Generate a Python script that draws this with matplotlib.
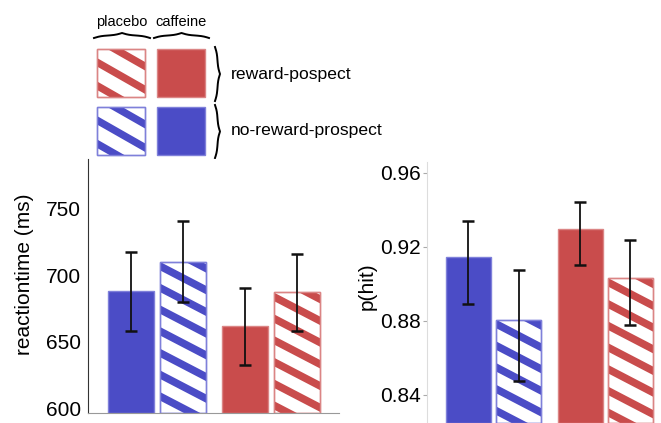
import numpy as np
import matplotlib.pyplot as plt
from matplotlib.patches import Rectangle, Polygon
from matplotlib.transforms import IdentityTransform

plt.rcParams['font.family'] = ['Liberation Sans', 'DejaVu Sans']

# bar order: caffeine/no-reward, placebo/no-reward, caffeine/reward, placebo/reward
conditions = ['caffeine no-reward', 'placebo no-reward', 'caffeine reward', 'placebo reward']
rt_mean = [688, 710, 662, 687]
rt_err_low = [30, 30, 29, 28.5]
rt_err_high = [29.5, 30, 28.5, 28.5]
hit_mean = [0.9143, 0.8805, 0.9294, 0.9031]
hit_err_low = [0.0252, 0.0331, 0.0195, 0.0252]
hit_err_high = [0.0198, 0.0267, 0.0149, 0.0205]
rt_ticks = [600, 650, 700, 750]
hit_ticks = [0.84, 0.88, 0.92, 0.96]
hit_tick_labels = ['0.84', '0.88', '0.92', '0.96']

blue = '#4b4cc6'
red = '#c94c4c'
blue_edge = '#7f80da'
red_edge = '#db8585'
colors = [blue, blue, red, red]
edges = [blue_edge, blue_edge, red_edge, red_edge]
hatched = [False, True, False, True]
xpos = [0, 1.12, 2.48, 3.60]

W, H = 661, 423
fig = plt.figure(figsize=(W / 100, H / 100), dpi=100)


def px_axes(x0, y0, x1, y1):
    # axes box given in pixel coords measured from the top-left corner
    return fig.add_axes([x0 / W, (H - y1) / H, (x1 - x0) / W, (y1 - y0) / H])


def stripes(ax, clip, ext, color, period=21.7, thick=8.5, slope=0.52, offset=0.0):
    # diagonal stripes falling to the right, laid out in display pixels from
    # the patch's top-left corner and clipped to the patch
    x0, x1, top, bottom = ext.x0, ext.x1, ext.y1, ext.y0
    run = x1 - x0 + 10
    k = -1
    while True:
        y_up = top - offset - k * period
        if y_up + 5 * slope < bottom:
            break
        pts = [(x0 - 5, y_up + 5 * slope), (x1 + 5, y_up + 5 * slope - run * slope),
               (x1 + 5, y_up + 5 * slope - run * slope - thick),
               (x0 - 5, y_up + 5 * slope - thick)]
        poly = Polygon(pts, closed=True, facecolor=color, edgecolor='none',
                       transform=IdentityTransform(), zorder=2)
        ax.add_patch(poly)
        poly.set_clip_path(clip)
        k += 1
    # stripes whose left end starts above the top edge
    k = -2
    while top - offset - k * period - run * slope < top + thick:
        y_up = top - offset - k * period
        pts = [(x0 - 5, y_up), (x1 + 5, y_up - run * slope),
               (x1 + 5, y_up - run * slope - thick), (x0 - 5, y_up - thick)]
        poly = Polygon(pts, closed=True, facecolor=color, edgecolor='none',
                       transform=IdentityTransform(), zorder=2)
        ax.add_patch(poly)
        poly.set_clip_path(clip)
        k -= 1
        if k < -20:
            break


def draw_bars(ax, means, err_low, err_high, base):
    bars = ax.bar(xpos, [m - base for m in means], bottom=base, width=1.0,
                  color=[('white' if h else c) for c, h in zip(colors, hatched)],
                  edgecolor=edges, linewidth=1.0, zorder=1)
    fig.canvas.draw()
    for b, c, h in zip(bars, colors, hatched):
        if not h:
            continue
        stripes(ax, b, b.get_window_extent(), c)
        edge = Rectangle(b.get_xy(), b.get_width(), b.get_height(), facecolor='none',
                         edgecolor=b.get_edgecolor(), linewidth=1.0, zorder=3)
        ax.add_patch(edge)
    ax.errorbar(xpos, means, yerr=[err_low, err_high], fmt='none', ecolor='#111111',
                elinewidth=1.3, capsize=4.3, capthick=1.8, zorder=4)


# reaction time panel
ax1 = px_axes(88, 159, 339, 413)
ax1.set_xlim(-0.935, 4.52)
ax1.set_ylim(597, 786.6)
draw_bars(ax1, rt_mean, rt_err_low, rt_err_high, 597)
ax1.set_yticks(rt_ticks)
ax1.set_xticks([])
ax1.tick_params(axis='y', length=0, pad=5, labelsize=15)
for s in ['top', 'right']:
    ax1.spines[s].set_visible(False)
ax1.spines['left'].set_color('#333333')
ax1.spines['bottom'].set_color('#999999')
fig.text(25 / W, (H - 274) / H, 'reactiontime (ms)', rotation=90, ha='center',
         va='center', fontsize=15)

# hit probability panel
ax2 = px_axes(427, 162, 661, 423)
ax2.set_xlim(-0.922, 4.28)
ax2.set_ylim(0.8247, 0.9658)
draw_bars(ax2, hit_mean, hit_err_low, hit_err_high, 0.8247)
ax2.set_yticks(hit_ticks)
ax2.set_yticklabels(hit_tick_labels)
ax2.set_xticks([])
ax2.tick_params(axis='y', length=3, width=0.8, color='#aaaaaa', pad=1.5, labelsize=15)
for s in ['top', 'right', 'bottom']:
    ax2.spines[s].set_visible(False)
ax2.spines['left'].set_color('#dddddd')
fig.text(367.5 / W, (H - 286) / H, 'p(hit)', rotation=90, ha='center', va='center',
         fontsize=15)

# key above the left panel, laid out in pixels
leg = fig.add_axes([0, 0, 1, 1], zorder=-1)
leg.set_xlim(0, W)
leg.set_ylim(H, 0)
leg.axis('off')

squares = [(97, 49, red, red_edge, True), (157, 49, red, red_edge, False),
           (97, 107, blue, blue_edge, True), (157, 107, blue, blue_edge, False)]
for sx, sy, c, e, h in squares:
    sq = Rectangle((sx, sy), 48, 48, facecolor='white' if h else c, edgecolor=e,
                   linewidth=1.0, zorder=1)
    leg.add_patch(sq)
    if h:
        fig.canvas.draw()
        stripes(leg, sq, sq.get_window_extent(), c, period=23.4, thick=8.5,
                slope=0.57, offset=9)
        leg.add_patch(Rectangle((sx, sy), 48, 48, facecolor='none', edgecolor=e,
                                linewidth=1.0, zorder=3))


def brace_curve(n=200, beta=14.0):
    # unit curly brace from 0..1 along its length, tip height 1
    t = np.linspace(0, 0.5, n // 2)
    half = 1 / (1 + np.exp(-beta * t)) + 1 / (1 + np.exp(-beta * (t - 0.5)))
    half = (half - half.min()) / (half.max() - half.min())
    s = np.concatenate([t, 1 - t[::-1]])
    h = np.concatenate([half, half[::-1]])
    return s, h


s, h = brace_curve()
# horizontal braces under the column labels, tip pointing up
for a, b in [(94, 150), (154, 209)]:
    leg.plot(a + s * (b - a), 38 - h * 5, color='black', lw=1.4)
# vertical braces next to the rows, tip pointing right
for a, b in [(47, 101), (105, 158)]:
    leg.plot(215 + h * 5, a + s * (b - a), color='black', lw=1.4)

leg.text(122, 22, 'placebo', ha='center', va='center', fontsize=10.5)
leg.text(181, 22, 'caffeine', ha='center', va='center', fontsize=10.5)
leg.text(231, 74, 'reward-pospect', ha='left', va='center', fontsize=12.6)
leg.text(231, 131, 'no-reward-prospect', ha='left', va='center', fontsize=12.6)

fig.savefig('out.png', dpi=100)
